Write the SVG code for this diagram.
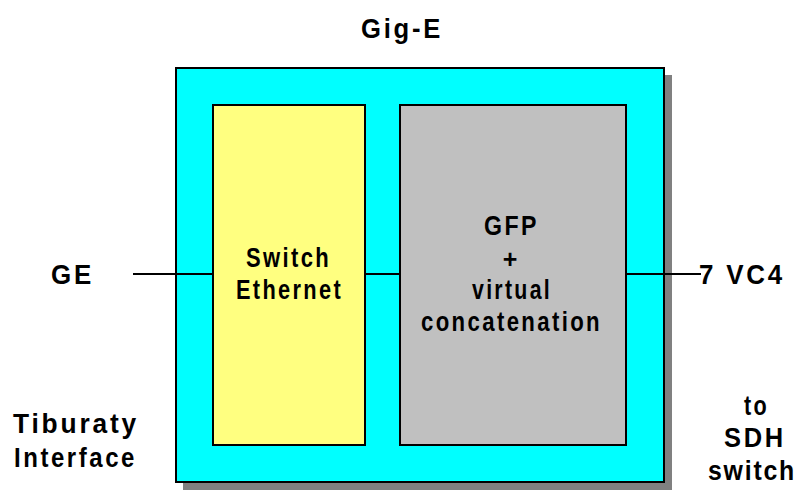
<svg xmlns="http://www.w3.org/2000/svg" width="808" height="494" viewBox="0 0 808 494">
<style>
text{font-family:"Liberation Sans",Arial,sans-serif;font-weight:bold;font-size:28px;letter-spacing:3px;fill:#000}
.c{text-anchor:middle}
.box{stroke:#000;stroke-width:2}
.sh{fill:#808080}
.ln{stroke:#000;stroke-width:2;fill:none}
</style>
<rect width="808" height="494" fill="#fff"/>
<g id="gige">
<rect class="sh" x="183" y="75" width="489" height="415"/>
<rect class="box" x="176" y="68" width="488" height="414" fill="#00ffff"/>
<text x="361" y="38" textLength="82" lengthAdjust="spacingAndGlyphs">Gig-E</text>
</g>
<g id="switch">
<rect class="box" x="213" y="105" width="152" height="340" fill="#ffff80"/>
<text x="246" y="267" textLength="85" lengthAdjust="spacingAndGlyphs">Switch</text>
<text x="236" y="299" textLength="107" lengthAdjust="spacingAndGlyphs">Ethernet</text>
</g>
<g id="gfp">
<rect class="box" x="400" y="105" width="226" height="340" fill="#c0c0c0"/>
<text x="484" y="235" textLength="55" lengthAdjust="spacingAndGlyphs">GFP</text>
<text class="c" x="510" y="268" style="letter-spacing:0;font-size:25px">+</text>
<text x="472" y="299" textLength="80" lengthAdjust="spacingAndGlyphs">virtual</text>
<text x="421" y="331" textLength="181" lengthAdjust="spacingAndGlyphs">concatenation</text>
</g>
<g id="ge"><text x="51" y="284" textLength="43" lengthAdjust="spacingAndGlyphs">GE</text></g>
<g id="vc4"><text x="699" y="284" textLength="86" lengthAdjust="spacingAndGlyphs">7 VC4</text></g>
<g id="tiburaty">
<text x="13" y="433" textLength="126" lengthAdjust="spacingAndGlyphs">Tiburaty</text>
<text x="14" y="467" textLength="123" lengthAdjust="spacingAndGlyphs">Interface</text>
</g>
<g id="sdh">
<text x="744" y="415" textLength="25" lengthAdjust="spacingAndGlyphs">to</text>
<text x="724" y="447" textLength="62" lengthAdjust="spacingAndGlyphs">SDH</text>
<text x="708" y="480" textLength="88" lengthAdjust="spacingAndGlyphs" style="letter-spacing:2px">switch</text>
</g>
<g id="connectors">
<line class="ln" x1="133" y1="274" x2="213" y2="274"/>
<line class="ln" x1="365" y1="274" x2="400" y2="274"/>
<line class="ln" x1="626" y1="274" x2="701" y2="274"/>
</g>
</svg>
